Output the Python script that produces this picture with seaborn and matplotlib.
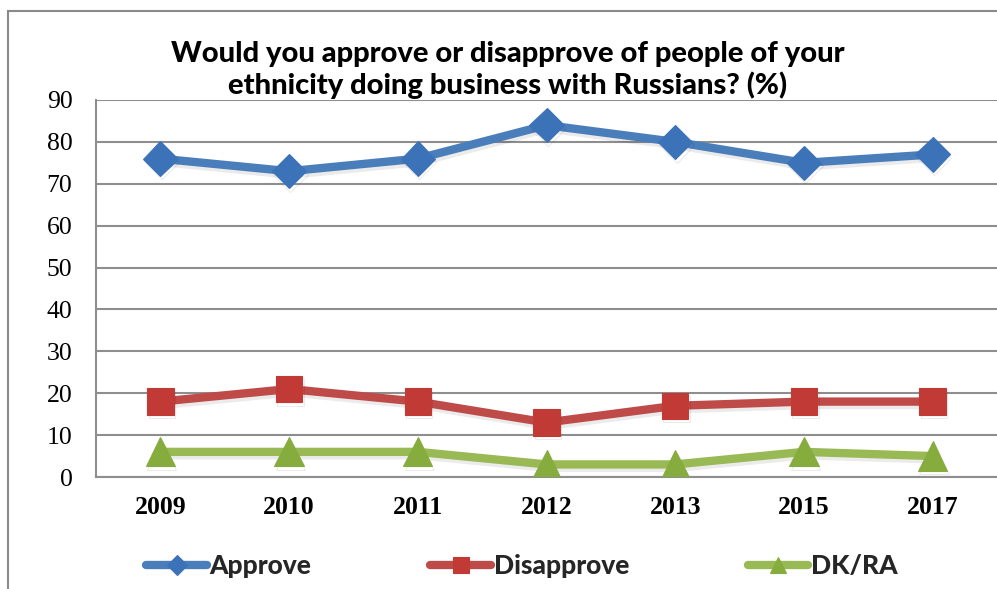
import matplotlib
matplotlib.use("Agg")
import matplotlib.pyplot as plt
import matplotlib.patheffects as pe
from matplotlib.patches import Rectangle
import seaborn as sns
import pandas as pd

years = ["2009", "2010", "2011", "2012", "2013", "2015", "2017"]
approve = [76, 73, 76, 84, 80, 75, 77]
disapprove = [18, 21, 18, 13, 17, 18, 18]
dk_ra = [6, 6, 6, 3, 3, 6, 5]
y_ticks = [0, 10, 20, 30, 40, 50, 60, 70, 80, 90]

series_names = ["Approve", "Disapprove", "DK/RA"]
line_colors = ["#4A7EBB", "#BE4B48", "#98B954"]
marker_colors = ["#3C72B8", "#C23A35", "#86AC3E"]
markers = ["D", "s", "^"]
marker_sizes = [17.5, 19, 21]

df = pd.DataFrame({
    "Year": years * 3,
    "Value": approve + disapprove + dk_ra,
    "Series": [n for n in series_names for _ in years],
})

sns.set_theme(style="white")
W, H = 997, 589
fig = plt.figure(figsize=(W / 100, H / 100), dpi=100)
ax = fig.add_axes([96 / W, 1 - 477 / H, (W - 96) / W, (477 - 100) / H])

for name, col, mcol, mk, ms in zip(series_names, line_colors, marker_colors, markers, marker_sizes):
    sub = df[df["Series"] == name]
    sns.lineplot(data=sub, x="Year", y="Value", ax=ax, color=col, linewidth=6,
                 marker=mk, markersize=ms, markerfacecolor=mcol, markeredgecolor=mcol,
                 markeredgewidth=0.8, label=name, sort=False, zorder=3)

# soft drop shadow under the markers
for line in ax.get_lines():
    line.set_path_effects([pe.SimpleLineShadow(offset=(1, -2.5), shadow_color="#000000", alpha=0.08),
                           pe.Normal()])

ax.set_xlim(-0.5, len(years) - 0.5)
ax.set_ylim(0, 90)
ax.set_yticks(y_ticks)
ax.set_yticklabels([str(t) for t in y_ticks], fontfamily="Liberation Serif", fontsize=18.5, color="black")
ax.set_xticks(range(len(years)))
ax.set_xticklabels(years, fontfamily="Liberation Serif", fontsize=18.5, fontweight="bold", color="black")
ax.tick_params(axis="x", length=0, pad=14)
ax.tick_params(axis="y", length=0, pad=17)
ax.set_xlabel("")
ax.set_ylabel("")
ax.yaxis.grid(True, color="#8E8E8E", linewidth=1.5)
ax.set_axisbelow(True)
for s in ["top", "right"]:
    ax.spines[s].set_visible(False)
for s in ["left", "bottom"]:
    ax.spines[s].set_color("#8E8E8E")
    ax.spines[s].set_linewidth(1.5)

fig.text(508 / W, 1 - 70 / H,
         "Would you approve or disapprove of people of your\nethnicity doing business with Russians? (%)",
         ha="center", va="center", fontfamily="Lato", fontweight="black", fontsize=21,
         linespacing=1.22, color="black")

leg = ax.legend(loc="center", bbox_to_anchor=(522 / W, 1 - 566 / H), bbox_transform=fig.transFigure,
                ncol=3, frameon=False, columnspacing=4.5, handlelength=2.3, handletextpad=0.1,
                markerscale=0.58, prop={"family": "Lato", "weight": "black", "size": 19})
for h in leg.legend_handles:
    h.set_path_effects([])

# chart border
fig.patches.append(Rectangle((8 / W, -0.05), 1.2, 1 - 11 / H + 0.05, transform=fig.transFigure,
                             fill=False, edgecolor="#8A8A8A", linewidth=1.5))

fig.savefig("out.png", dpi=100)
